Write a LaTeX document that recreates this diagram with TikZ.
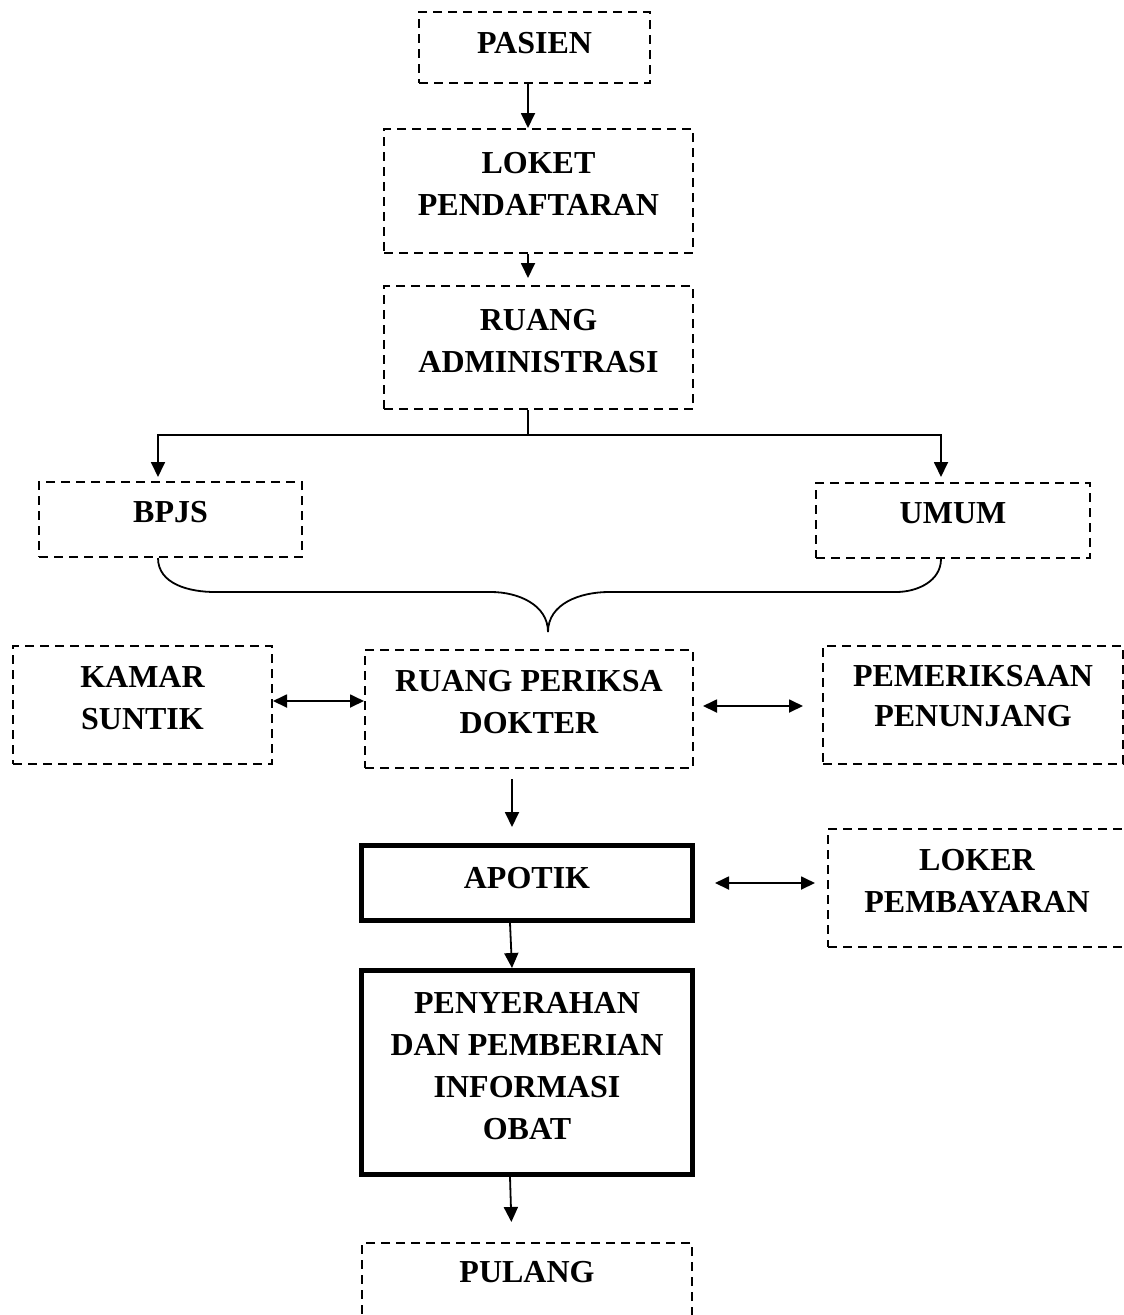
\documentclass[tikz,border=0pt]{standalone}
\usepackage{fontspec}
\setmainfont{Liberation Serif}
\usepackage{tikz}
\usetikzlibrary{arrows.meta}

\newcommand{\ganjal}[1][14pt]{\rule[-#1]{0pt}{#1}}

\begin{document}
\begin{tikzpicture}[x=1pt,y=-1pt,
        font=\fontsize{32}{42}\selectfont\bfseries,
        kotak/.style={rectangle,draw,dash pattern=on 9pt off 6pt,line width=2pt,align=center},
        tebal/.style={rectangle,draw,line width=5pt,align=center},
        sambung/.style={line width=1.8pt},
        panah/.style={sambung,-{Triangle[length=15pt,width=14pt]}},
        dua/.style={sambung,{Triangle[length=14pt,width=13pt]}-{Triangle[length=14pt,width=13pt]}}]
        \useasboundingbox (0,0) rectangle (1124,1315);

        \node[kotak,minimum width=231pt,minimum height=71pt] (pasien) at (534.5,47.5) {PASIEN\ganjal[10pt]};
        \node[kotak,minimum width=309pt,minimum height=124pt] (loket) at (538.5,191) {LOKET\\PENDAFTARAN\ganjal};
        \node[kotak,minimum width=309pt,minimum height=123pt] (adm) at (538.5,347.5) {RUANG\\ADMINISTRASI\ganjal};
        \node[kotak,minimum width=263pt,minimum height=75pt] (bpjs) at (170.5,519.5) {BPJS\ganjal[15pt]};
        \node[kotak,minimum width=274pt,minimum height=75pt] (umum) at (953,520.5) {UMUM\ganjal[15pt]};
        \node[kotak,minimum width=259pt,minimum height=118pt] (kamar) at (142.5,705) {KAMAR\\SUNTIK\ganjal};
        \node[kotak,minimum width=328pt,minimum height=118pt] (dokter) at (529,709) {RUANG PERIKSA\\DOKTER\ganjal};
        \node[kotak,minimum width=300pt,minimum height=118pt,font=\fontsize{32}{40}\selectfont\bfseries] (penunjang) at (973,705) {PEMERIKSAAN\\PENUNJANG\ganjal[19pt]};
        \node[tebal,minimum width=331pt,minimum height=75pt] (apotik) at (527,883) {APOTIK\ganjal[10pt]};
        \node[kotak,minimum width=298pt,minimum height=118pt] (loker) at (977,888) {LOKER\\PEMBAYARAN\ganjal};
        \node[tebal,minimum width=331pt,minimum height=204pt] (serah) at (527,1072.5) {PENYERAHAN\\DAN PEMBERIAN\\INFORMASI\\OBAT\ganjal};
        \node[kotak,minimum width=330pt,minimum height=118pt] (pulang) at (527,1302) {PULANG\ganjal[60pt]};

        \coordinate (cabang) at (528,435);
        \coordinate (puncak) at (548,632);

        \draw[panah] ([xshift=-6.5pt]pasien.south) -- ([xshift=-10.5pt]loket.north);
        \draw[panah,shorten >=7pt] ([xshift=-10.5pt]loket.south) -- ([xshift=-10.5pt]adm.north);
        \draw[sambung] ([xshift=-10.5pt]adm.south) -- (cabang);
        \draw[panah,shorten >=4pt] (cabang) -| ([xshift=-12.5pt]bpjs.north);
        \draw[panah,shorten >=5pt] (cabang) -| ([xshift=-12pt]umum.north);
        \draw[sambung] ([xshift=-12.5pt]bpjs.south) to[out=-90,in=180] (215,592) -- (491,592) to[out=0,in=90] (puncak);
        \draw[sambung] ([xshift=-12pt]umum.south) to[out=-90,in=0] (896,592) -- (609,592) to[out=180,in=90] (puncak);
        \draw[dua] ([yshift=4pt]kamar.east) -- ([yshift=8pt]dokter.west);
        \draw[dua,shorten <=9pt,shorten >=19pt] ([yshift=3pt]dokter.east) -- ([yshift=-1pt]penunjang.west);
        \draw[panah,shorten <=10pt,shorten >=16pt] ([xshift=-17pt]dokter.south) -- ([xshift=-15pt]apotik.north);
        \draw[dua,shorten <=20pt,shorten >=12pt] (apotik.east) -- ([yshift=5pt]loker.west);
        \draw[panah] ([xshift=-17pt]apotik.south) -- ([xshift=-15pt]serah.north);
        \draw[panah,shorten >=20pt] ([xshift=-17pt]serah.south) -- ([xshift=-15pt]pulang.north);
    \end{tikzpicture}
\end{document}
